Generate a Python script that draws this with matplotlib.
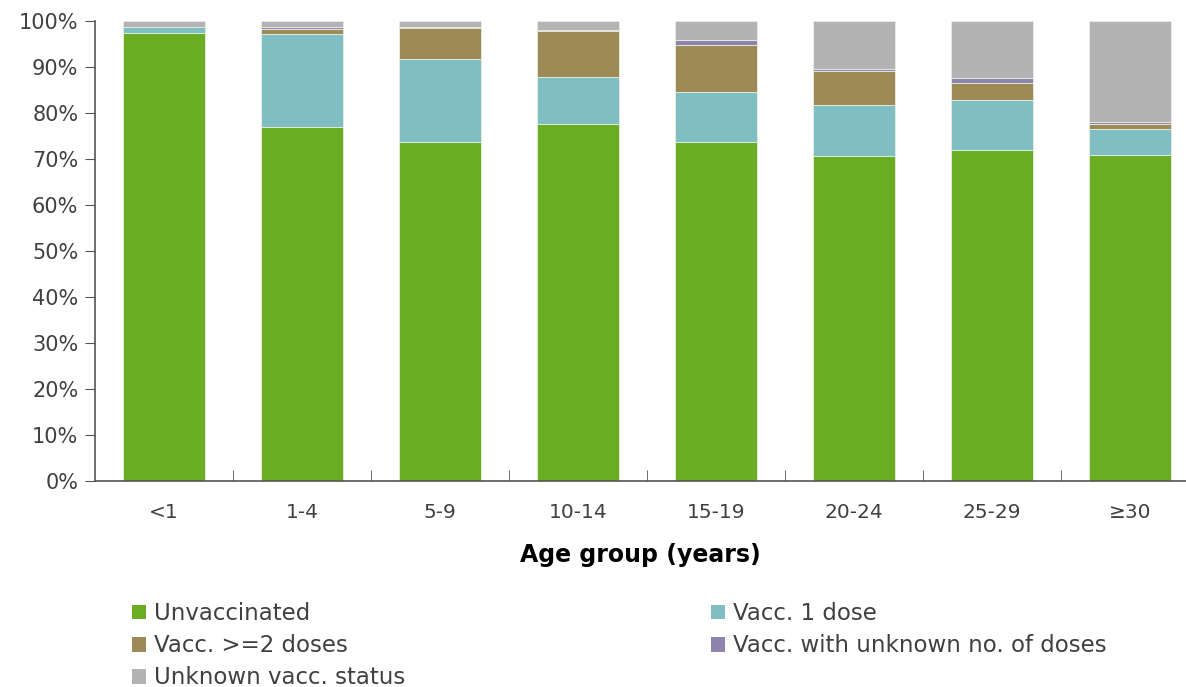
import numpy as np
import matplotlib
matplotlib.use('Agg')
import matplotlib.pyplot as plt
from matplotlib.patches import Patch

# age groups and shares (%) per vaccination status
age_groups = ['<1', '1-4', '5-9', '10-14', '15-19', '20-24', '25-29', '≥30']
unvaccinated = [97.3, 76.9, 73.8, 77.7, 73.8, 70.6, 71.9, 70.9]
vacc_1_dose = [1.4, 20.2, 17.9, 10.1, 10.8, 11.1, 10.9, 5.6]
vacc_2_doses = [0.0, 1.1, 6.7, 10.0, 10.2, 7.4, 3.7, 1.2]
vacc_unknown_doses = [0.0, 0.5, 0.4, 0.3, 1.1, 0.4, 1.0, 0.4]
unknown_status = [1.3, 1.3, 1.2, 1.9, 4.1, 10.5, 12.5, 21.9]

series = [
    ('Unvaccinated', unvaccinated, '#6aad23'),
    ('Vacc. 1 dose', vacc_1_dose, '#7fbec3'),
    ('Vacc. >=2 doses', vacc_2_doses, '#9e8a56'),
    ('Vacc. with unknown no. of doses', vacc_unknown_doses, '#8f84ae'),
    ('Unknown vacc. status', unknown_status, '#b3b3b3'),
]

txt = '#404040'
fig = plt.figure(figsize=(11.86, 6.87), dpi=100)
ax = fig.add_axes([95 / 1186, 1 - 481 / 687, 1 - 95 / 1186, 460 / 687])

x = np.arange(len(age_groups))
bottom = np.zeros(len(age_groups))
handles = {}
for name, vals, col in series:
    vals = np.array(vals)
    ax.bar(x, vals, width=0.6, bottom=bottom, color=col, edgecolor='#e8eee0', linewidth=0.6)
    bottom += vals
    handles[name] = Patch(facecolor=col, edgecolor='none')

ax.set_xlim(-0.5, 7.406)
ax.set_ylim(0, 100)
ax.set_yticks(np.arange(0, 101, 10))
ax.set_yticklabels([f'{v}%' for v in range(0, 101, 10)], fontsize=15, color=txt)
ax.set_xticks(x)
ax.set_xticklabels(age_groups, fontsize=14.5, color=txt)
ax.tick_params(axis='x', length=0, pad=16)
ax.set_xticks(x[:-1] + 0.5, minor=True)
ax.tick_params(axis='x', which='minor', direction='in', length=8, color='#555555')
ax.tick_params(axis='y', direction='out', length=7, color='#555555', pad=5)
for s in ['top', 'right']:
    ax.spines[s].set_visible(False)
for s in ['left', 'bottom']:
    ax.spines[s].set_color('#555555')
    ax.spines[s].set_linewidth(1.2)

ax.set_xlabel('Age group (years)', fontsize=17, fontweight='bold', color='black', labelpad=15)

leg_kw = dict(frameon=False, fontsize=16.5, handlelength=0.62, handleheight=0.62,
              handletextpad=0.35, labelspacing=0.4, borderpad=0, borderaxespad=0,
              labelcolor=txt, loc='upper left')
col1 = ['Unvaccinated', 'Vacc. >=2 doses', 'Unknown vacc. status']
col2 = ['Vacc. 1 dose', 'Vacc. with unknown no. of doses']
fig.legend([handles[n] for n in col1], col1, bbox_to_anchor=(132 / 1186, 1 - 602 / 687), **leg_kw)
fig.legend([handles[n] for n in col2], col2, bbox_to_anchor=(711 / 1186, 1 - 602 / 687), **leg_kw)

fig.savefig('out.png', dpi=100)
